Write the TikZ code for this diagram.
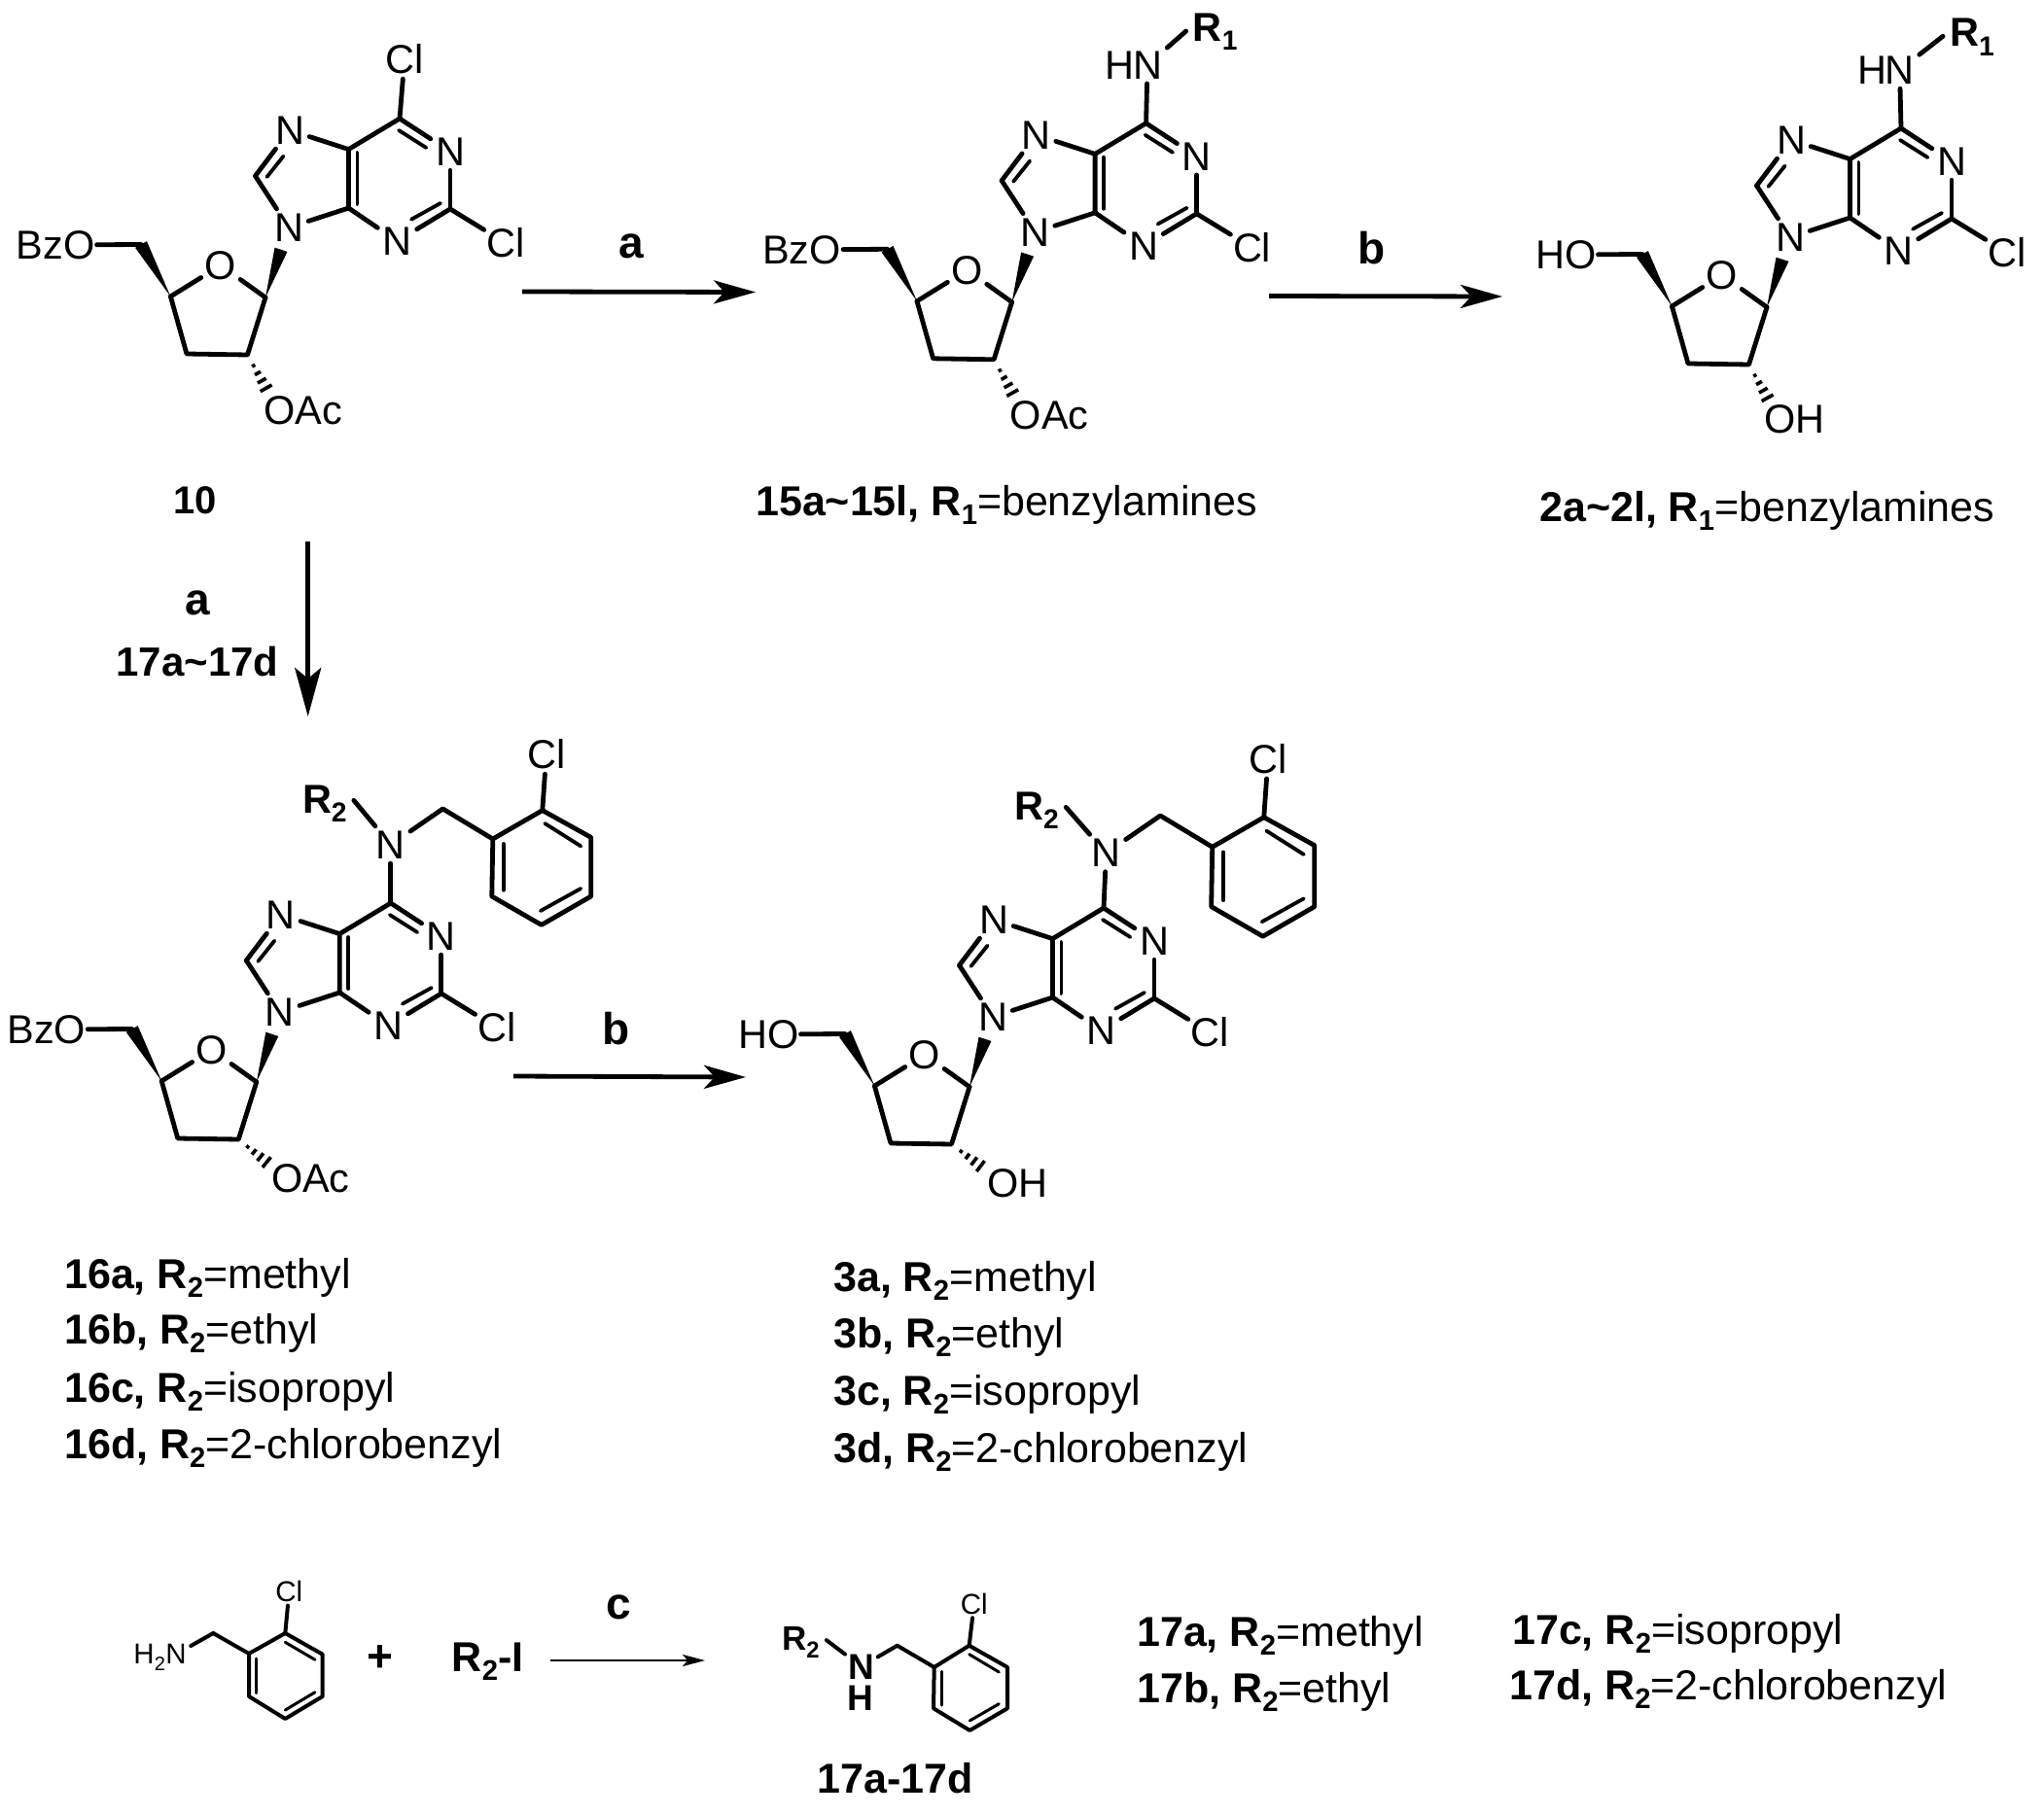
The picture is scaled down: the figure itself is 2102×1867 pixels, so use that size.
\documentclass[tikz,border=0pt]{standalone}
\usepackage{fontspec}
\usepackage{graphicx}
\setmainfont{Liberation Sans}
\usetikzlibrary{calc,arrows.meta}
\newcommand\fsA{\fontsize{41.5}{44}\selectfont}
\newcommand\fsL{\fontsize{43}{48}\selectfont}
\newcommand\fsR{\fontsize{46}{50}\selectfont}
\newcommand\fsS{\fontsize{29.5}{32}\selectfont}
\newcommand\fsM{\fontsize{37}{40}\selectfont}
\newcommand\subs[1]{\raisebox{-.22em}{\scalebox{.68}{#1}}}
\tikzset{
 bond/.style={line width=4.8pt,line cap=round,line join=round},
 inbond/.style={line width=3.8pt,line cap=round},
 sbond/.style={line width=4pt,line cap=round,line join=round},
 sinbond/.style={line width=3pt,line cap=round},
 atom/.style={inner sep=0pt,minimum width=40pt,minimum height=38pt,font=\fsA},
 clatom/.style={inner sep=0pt,minimum width=44pt,minimum height=40pt,font=\fsA},
 satom/.style={inner sep=0pt,minimum width=32pt,minimum height=28pt,font=\fsS},
 smallN/.style={inner sep=0pt,font=\fsS},
 matom/.style={inner sep=0pt,font=\fsM\bfseries},
 tag/.style={inner sep=2pt,font=\fsA},
 listlabel/.style={inner sep=0pt,anchor=base west,font=\fsL},
 rxnlabel/.style={inner sep=0pt,font=\fsR\bfseries},
 rxn/.style={line width=4.8pt,-{Stealth[length=43pt,width=24pt,inset=11pt]}},
 rxnthin/.style={line width=2.6pt,-{Stealth[length=23pt,width=12pt,inset=5pt]}},
}
% #1 prefix, #2 left label, #3 lower label, #4 lower label x, #5 lower label y, #6,#7 hash end
\newcommand\nucleoside[7]{%
 \coordinate (#1c6) at (0,0);
 \node[atom] (#1n1) at (52,34) {N};
 \coordinate (#1c2) at (52,93);
 \node[atom] (#1n3) at (-2.5,126) {N};
 \coordinate (#1c4) at (-52.5,92);
 \coordinate (#1c5) at (-52.5,31.6);
 \node[atom] (#1n7) at (-113,12) {N};
 \coordinate (#1c8) at (-148.5,59);
 \node[atom] (#1n9) at (-114,112) {N};
 \node[clatom] (#1cl) at (109,128) {Cl};
 \coordinate (#1c1p) at (-138,184);
 \node[atom,minimum height=30pt] (#1o) at (-184,151) {O};
 \coordinate (#1c4p) at (-235.6,183);
 \coordinate (#1c3p) at (-219,242);
 \coordinate (#1c2p) at (-156.5,243);
 \coordinate (#1c5p) at (-266,129.5);
 \coordinate (#1w) at (-122,134.8);
 \coordinate (#1h) at (#6,#7);
 \node[tag,anchor=east] (#1l) at (-311.5,130) {#2};
 \node[tag,anchor=west] (#1b) at (#4,#5) {#3};
 \draw[bond] (#1c6) -- (#1n1);
 \draw[bond] (#1n1) -- (#1c2);
 \draw[bond] (#1c2) -- (#1n3);
 \draw[bond] (#1n3) -- (#1c4);
 \draw[bond] (#1c4) -- (#1c5) -- (#1c6);
 \draw[bond] (#1c5) -- (#1n7);
 \draw[bond] (#1n7) -- (#1c8);
 \draw[bond] (#1c8) -- (#1n9);
 \draw[bond] (#1n9) -- (#1c4);
 \draw[bond] (#1c2) -- (#1cl);
 \draw[bond] (#1c1p) -- (#1c2p) -- (#1c3p) -- (#1c4p);
 \draw[bond] (#1c4p) -- (#1o);
 \draw[bond] (#1o) -- (#1c1p);
 \draw[bond] (#1c5p) -- (#1l);
 \draw[inbond] (-1,12) -- (27.4,30);
 \draw[inbond] (12,103.7) -- (42,87);
 \draw[inbond] (-43.6,35) -- (-43.6,88);
 \draw[inbond] (-119.5,38.7) -- (-136.5,60);
 \fill (#1c1p) -- ($(#1w)!6.8pt!90:(#1c1p)$) -- ($(#1w)!6.8pt!-90:(#1c1p)$) -- cycle;
 \fill (#1c4p) -- ($(#1c5p)!6.8pt!90:(#1c4p)$) -- ($(#1c5p)!6.8pt!-90:(#1c4p)$) -- cycle;
 \foreach \t/\w in {.32/1.8,.54/3.4,.76/5,.98/6.8}{
  \draw[line width=3.6pt] ($($(#1c2p)!\t!(#1h)$)!\w pt!90:(#1h)$) -- ($($(#1c2p)!\t!(#1h)$)!\w pt!-90:(#1h)$);
 }
}
\newcommand\hnr[3]{%
 \node[atom] (#1nh) at (#2,-60) {N};
 \node[tag,anchor=east,inner sep=0pt] (#1hh) at ([xshift=7pt]#1nh.west) {H};
 \node[tag,anchor=base west,font=\fsA\bfseries,inner sep=0pt] (#1r) at (#3,-84) {R\subs{1}};
 \draw[bond] (#1c6) -- (#1nh);
 \draw[bond] ([xshift=-7pt,yshift=1pt]#1r.west) -- (#1nh);
}
\newcommand\benzylamine[4]{%
 \node[atom] (#1na) at (#2,#3) {N};
 \draw[bond] (#1c6) -- (#1na);
 \begin{scope}[shift={(#2,#3)},scale=#4]
 \coordinate (#1ch) at (53.6,-37);
 \coordinate (#1p1) at (105,-6);
 \coordinate (#1p2) at (156,-35.4);
 \coordinate (#1p3) at (206,-7.6);
 \coordinate (#1p4) at (206,53);
 \coordinate (#1p5) at (155,82.4);
 \coordinate (#1p6) at (104,53);
 \node[clatom] (#1pc) at (160,-93) {Cl};
 \node[anchor=base west,inner sep=0pt,font=\fsA\bfseries] (#1r) at (-91,-33) {R\subs{2}};
 \draw[bond] (#1na) -- (#1ch) -- (#1p1);
 \draw[bond] (#1p1) -- (#1p2) -- (#1p3) -- (#1p4) -- (#1p5) -- (#1p6) -- cycle;
 \draw[bond] (#1p2) -- (#1pc);
 \draw[bond] ([xshift=7pt,yshift=3pt]#1r.east) -- (#1na);
 \draw[inbond] (158.5,-22) -- (195.5,1.4);
 \draw[inbond] (116,-1) -- (116,46.7);
 \draw[inbond] (195.5,45) -- (154,68);
 \end{scope}
}
\begin{document}
\begin{tikzpicture}[x=1pt,y=-1pt]
\fill[white] (0,0) rectangle (2102,1867);
\useasboundingbox (0,0) rectangle (2102,1867);
% 10
\begin{scope}[shift={(411,122)}]
 \nucleoside{m}{BzO}{OAc}{-142}{300}{-137}{278}
 \node[clatom] (mcl6) at (5,-61) {Cl};
 \draw[bond] (mc6) -- (mcl6);
\end{scope}
% 15
\begin{scope}[shift={(1178.6,126.8)}]
 \nucleoside{a}{BzO}{OAc}{-142}{300}{-137}{278}
 \hnr{a}{1.4}{48}
\end{scope}
% 2
\begin{scope}[shift={(1955,132)}]
 \nucleoside{b}{HO}{OH}{-143}{299}{-137}{278}
 \hnr{b}{-1.4}{50}
\end{scope}
% 16
\begin{scope}[shift={(401.8,929)}]
 \nucleoside{c}{BzO}{OAc}{-125}{283}{-127}{267}
 \benzylamine{c}{0}{-60}{1}
\end{scope}
% 3
\begin{scope}[shift={(1135,934)}]
 \nucleoside{d}{HO}{OH}{-122}{283}{-126}{266}
 \benzylamine{d}{2.5}{-56.5}{1.04}
\end{scope}
% compound labels
\node[inner sep=0pt,font=\fontsize{40}{44}\selectfont\bfseries] (l10) at (201,515) {10};
\node[listlabel] (l15) at (777,530) {\textbf{15a\textasciitilde 15l, R\subs{1}}=benzylamines};
\node[listlabel] (l2) at (1583,536) {\textbf{2a\textasciitilde 2l, R\subs{1}}=benzylamines};
\node[listlabel] (l16a) at (66,1325) {\textbf{16a, R\subs{2}}=methyl};
\node[listlabel] (l16b) at (66,1382) {\textbf{16b, R\subs{2}}=ethyl};
\node[listlabel] (l16c) at (66,1442) {\textbf{16c, R\subs{2}}=isopropyl};
\node[listlabel] (l16d) at (66,1500) {\textbf{16d, R\subs{2}}=2-chlorobenzyl};
\node[listlabel] (l3a) at (857,1328) {\textbf{3a, R\subs{2}}=methyl};
\node[listlabel] (l3b) at (857,1386) {\textbf{3b, R\subs{2}}=ethyl};
\node[listlabel] (l3c) at (857,1445) {\textbf{3c, R\subs{2}}=isopropyl};
\node[listlabel] (l3d) at (857,1504) {\textbf{3d, R\subs{2}}=2-chlorobenzyl};
\node[listlabel] (l17a) at (1169,1693) {\textbf{17a, R\subs{2}}=methyl};
\node[listlabel] (l17b) at (1169,1751) {\textbf{17b, R\subs{2}}=ethyl};
\node[listlabel] (l17c) at (1555,1691) {\textbf{17c, R\subs{2}}=isopropyl};
\node[listlabel] (l17d) at (1552,1748) {\textbf{17d, R\subs{2}}=2-chlorobenzyl};
\node[inner sep=0pt,font=\fsL\bfseries] (l17) at (921,1829) {17a-17d};
% reaction arrows
\coordinate (a1s) at (537,300); \coordinate (a1e) at (777,300.5);
\coordinate (a2s) at (1305,304.5); \coordinate (a2e) at (1545,305);
\coordinate (a3s) at (316.7,557); \coordinate (a3e) at (316.7,737);
\coordinate (a4s) at (528,1107); \coordinate (a4e) at (767,1108);
\coordinate (a5s) at (566,1708); \coordinate (a5e) at (725,1708);
\draw[rxn] (a1s) -- (a1e);
\draw[rxn] (a2s) -- (a2e);
\draw[rxn,-{Stealth[length=50pt,width=27pt,inset=11pt]}] (a3s) -- (a3e);
\draw[rxn] (a4s) -- (a4e);
\draw[rxnthin] (a5s) -- (a5e);
\node[rxnlabel] (ra1) at (649,253) {a};
\node[rxnlabel] (rb1) at (1411,255) {b};
\node[rxnlabel] (ra2) at (203,620) {a};
\node[inner sep=0pt,font=\fontsize{42}{46}\selectfont\bfseries] (r17) at (203,680) {17a\textasciitilde 17d};
\node[rxnlabel] (rb2) at (634,1058) {b};
\node[rxnlabel] (rc) at (636,1653) {c};
% 2-chlorobenzylamine
\coordinate (s1) at (256,1701);
\coordinate (s2) at (293.3,1680);
\coordinate (s3) at (331.7,1701.7);
\coordinate (s4) at (331.7,1745);
\coordinate (s5) at (293.3,1768);
\coordinate (s6) at (256,1745);
\coordinate (sch) at (219.3,1680);
\node[satom] (scl) at (297.3,1637.3) {Cl};
\node[smallN,anchor=base] (sn) at (181,1711.7) {N};
\node[anchor=base east,inner sep=0pt,font=\fsS] (sh) at (sn.base west) {H\subs{2}};
\draw[sbond] (s1) -- (s2) -- (s3) -- (s4) -- (s5) -- (s6) -- cycle;
\draw[sbond] (s1) -- (sch);
\draw[sbond,shorten >=5pt] (sch) -- (sn);
\draw[sbond] (s2) -- (scl);
\draw[sinbond] (293.3,1689.3) -- (324,1707.3);
\draw[sinbond] (263.3,1706) -- (263.3,1741.7);
\draw[sinbond] (324,1740.7) -- (293.3,1759);
\node[inner sep=0pt,font=\fsR\bfseries] (plus) at (391,1706) {+};
\node[inner sep=0pt,anchor=base west,font=\fsL\bfseries] (r2i) at (464.6,1719) {R\subs{2}-I};
% product 17
\coordinate (t1) at (960.7,1715);
\coordinate (t2) at (996.7,1692.7);
\coordinate (t3) at (1036,1715);
\coordinate (t4) at (1036,1757.3);
\coordinate (t5) at (997.3,1780);
\coordinate (t6) at (960,1757.3);
\coordinate (tch) at (922.7,1692.7);
\node[satom] (tcl) at (1001.7,1650) {Cl};
\node[matom,anchor=base] (tn) at (885.7,1727) {N};
\node[matom,anchor=base] (th) at (885,1759.5) {H};
\node[inner sep=0pt,anchor=base west,font=\fontsize{35}{38}\selectfont\bfseries] (tr) at (804,1697.3) {R\subs{2}};
\draw[sbond] (t1) -- (t2) -- (t3) -- (t4) -- (t5) -- (t6) -- cycle;
\draw[sbond] (t1) -- (tch);
\draw[sbond,shorten >=4pt] (tch) -- (tn);
\draw[sbond] (t2) -- (tcl);
\draw[sbond,shorten >=4pt] ([xshift=7pt,yshift=2pt]tr.east) -- (tn);
\draw[sinbond] (996.7,1701.7) -- (1027.3,1720);
\draw[sinbond] (968.3,1719.3) -- (968.3,1754);
\draw[sinbond] (1027.3,1752.7) -- (997.3,1770);
\end{tikzpicture}
\end{document}
